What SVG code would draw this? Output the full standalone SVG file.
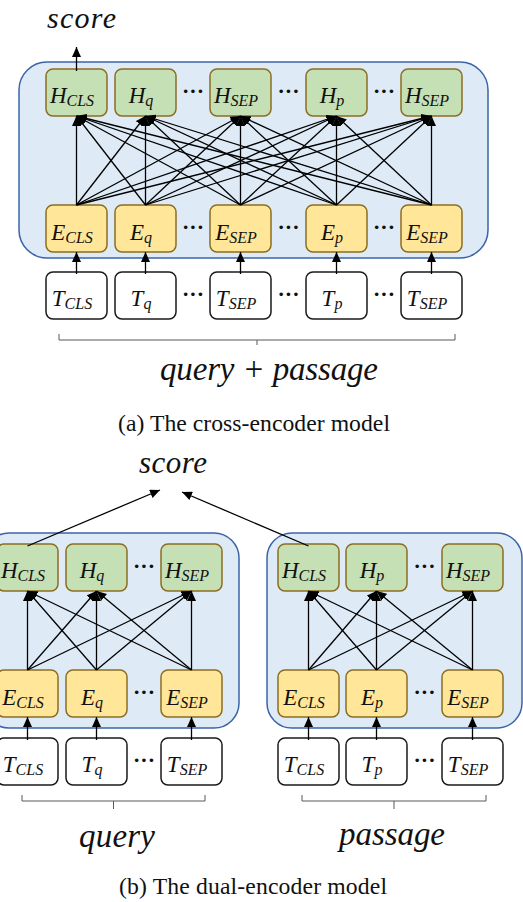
<svg xmlns="http://www.w3.org/2000/svg" width="523" height="902" viewBox="0 0 523 902">
<defs>
<style>
.cont{fill:#DEEBF7;stroke:#3B64A8;stroke-width:1.5}
.h{fill:#C5E0B4;stroke:#8C6D1F;stroke-width:1.5}
.e{fill:#FFE699;stroke:#8C6D1F;stroke-width:1.5}
.t{fill:#FFFFFF;stroke:#1A1A1A;stroke-width:1.5}
.lbl{font-family:"Liberation Serif",serif;font-style:italic;font-size:23px;fill:#111;text-anchor:middle}
.sub{font-size:16px}
.dots{font-family:"Liberation Serif",serif;font-size:22px;font-weight:bold;fill:#111;text-anchor:middle}
.math{font-family:"Liberation Serif",serif;font-style:italic;font-size:33px;fill:#111}
.cap{font-family:"Liberation Serif",serif;font-size:23.7px;fill:#111}
.ln{stroke:#000;stroke-width:1.3;fill:none}
.br{stroke:#595959;stroke-width:1;fill:none}
</style>
<marker id="ah" markerUnits="userSpaceOnUse" markerWidth="10" markerHeight="9" refX="10" refY="4.5" orient="auto">
<path d="M0,0 L10,4.5 L0,9 Z" fill="#000"/>
</marker>
</defs>
<rect width="523" height="902" fill="#fff"/>

<!-- (a) cross-encoder -->
<rect id="a-container" class="cont" x="19" y="62" width="469" height="196" rx="28"/>

<g id="a-H-CLS"><rect class="h" x="46" y="69" width="61" height="47" rx="7"/><text class="lbl" x="72" y="103">H<tspan class="sub" dy="3">CLS</tspan></text></g>
<g id="a-H-q"><rect class="h" x="115" y="69" width="61" height="47" rx="7"/><text class="lbl" x="141" y="103">H<tspan class="sub" dy="3">q</tspan></text></g>
<g id="a-H-SEP1"><rect class="h" x="210" y="69" width="61" height="47" rx="7"/><text class="lbl" x="236" y="103">H<tspan class="sub" dy="3">SEP</tspan></text></g>
<g id="a-H-p"><rect class="h" x="306" y="69" width="61" height="47" rx="7"/><text class="lbl" x="332" y="103">H<tspan class="sub" dy="3">p</tspan></text></g>
<g id="a-H-SEP2"><rect class="h" x="401" y="69" width="61" height="47" rx="7"/><text class="lbl" x="427" y="103">H<tspan class="sub" dy="3">SEP</tspan></text></g>

<g id="a-E-CLS"><rect class="e" x="46" y="205" width="61" height="47" rx="7"/><text class="lbl" x="72" y="240">E<tspan class="sub" dy="3">CLS</tspan></text></g>
<g id="a-E-q"><rect class="e" x="115" y="205" width="61" height="47" rx="7"/><text class="lbl" x="141" y="240">E<tspan class="sub" dy="3">q</tspan></text></g>
<g id="a-E-SEP1"><rect class="e" x="210" y="205" width="61" height="47" rx="7"/><text class="lbl" x="236" y="240">E<tspan class="sub" dy="3">SEP</tspan></text></g>
<g id="a-E-p"><rect class="e" x="306" y="205" width="61" height="47" rx="7"/><text class="lbl" x="332" y="240">E<tspan class="sub" dy="3">p</tspan></text></g>
<g id="a-E-SEP2"><rect class="e" x="401" y="205" width="61" height="47" rx="7"/><text class="lbl" x="427" y="240">E<tspan class="sub" dy="3">SEP</tspan></text></g>

<g id="a-T-CLS"><rect class="t" x="46" y="272" width="61" height="47" rx="7"/><text class="lbl" x="72" y="306">T<tspan class="sub" dy="3">CLS</tspan></text></g>
<g id="a-T-q"><rect class="t" x="115" y="272" width="61" height="47" rx="7"/><text class="lbl" x="141" y="306">T<tspan class="sub" dy="3">q</tspan></text></g>
<g id="a-T-SEP1"><rect class="t" x="210" y="272" width="61" height="47" rx="7"/><text class="lbl" x="236" y="306">T<tspan class="sub" dy="3">SEP</tspan></text></g>
<g id="a-T-p"><rect class="t" x="306" y="272" width="61" height="47" rx="7"/><text class="lbl" x="332" y="306">T<tspan class="sub" dy="3">p</tspan></text></g>
<g id="a-T-SEP2"><rect class="t" x="401" y="272" width="61" height="47" rx="7"/><text class="lbl" x="427" y="306">T<tspan class="sub" dy="3">SEP</tspan></text></g>

<g id="a-dots">
<text class="dots" x="193" y="98">···</text><text class="dots" x="288.5" y="98">···</text><text class="dots" x="384" y="98">···</text>
<text class="dots" x="193" y="234">···</text><text class="dots" x="288.5" y="234">···</text><text class="dots" x="384" y="234">···</text>
<text class="dots" x="193" y="301">···</text><text class="dots" x="288.5" y="301">···</text><text class="dots" x="384" y="301">···</text>
</g>

<text id="a-score" class="math" style="font-size:30px" x="47" y="27.5" textLength="69" lengthAdjust="spacing">score</text>
<path id="a-bracket" class="br" d="M59,334 V340 H455 V334 M257,340 V345"/>
<text id="a-input" class="math" x="160" y="380" textLength="218" lengthAdjust="spacing">query + passage</text>
<text id="a-caption" class="cap" x="118" y="431" textLength="272" lengthAdjust="spacing">(a) The cross-encoder model</text>

<g id="a-connectors" class="ln" marker-end="url(#ah)">
<line x1="76.5" y1="71" x2="76.5" y2="47"/>
<line x1="76.5" y1="274" x2="76.5" y2="252"/>
<line x1="145.5" y1="274" x2="145.5" y2="252"/>
<line x1="240.5" y1="274" x2="240.5" y2="252"/>
<line x1="336.5" y1="274" x2="336.5" y2="252"/>
<line x1="431.5" y1="274" x2="431.5" y2="252"/>
<line x1="76.5" y1="205" x2="76.5" y2="116"/>
<line x1="76.5" y1="205" x2="145.5" y2="116"/>
<line x1="76.5" y1="205" x2="240.5" y2="116"/>
<line x1="76.5" y1="205" x2="336.5" y2="116"/>
<line x1="76.5" y1="205" x2="431.5" y2="116"/>
<line x1="145.5" y1="205" x2="76.5" y2="116"/>
<line x1="145.5" y1="205" x2="145.5" y2="116"/>
<line x1="145.5" y1="205" x2="240.5" y2="116"/>
<line x1="145.5" y1="205" x2="336.5" y2="116"/>
<line x1="145.5" y1="205" x2="431.5" y2="116"/>
<line x1="240.5" y1="205" x2="76.5" y2="116"/>
<line x1="240.5" y1="205" x2="145.5" y2="116"/>
<line x1="240.5" y1="205" x2="240.5" y2="116"/>
<line x1="240.5" y1="205" x2="336.5" y2="116"/>
<line x1="240.5" y1="205" x2="431.5" y2="116"/>
<line x1="336.5" y1="205" x2="76.5" y2="116"/>
<line x1="336.5" y1="205" x2="145.5" y2="116"/>
<line x1="336.5" y1="205" x2="240.5" y2="116"/>
<line x1="336.5" y1="205" x2="336.5" y2="116"/>
<line x1="336.5" y1="205" x2="431.5" y2="116"/>
<line x1="431.5" y1="205" x2="76.5" y2="116"/>
<line x1="431.5" y1="205" x2="145.5" y2="116"/>
<line x1="431.5" y1="205" x2="240.5" y2="116"/>
<line x1="431.5" y1="205" x2="336.5" y2="116"/>
<line x1="431.5" y1="205" x2="431.5" y2="116"/>
</g>

<!-- (b) dual-encoder -->
<rect id="b-container-q" class="cont" x="-16" y="533" width="255" height="195" rx="25"/>
<rect id="b-container-p" class="cont" x="267" y="533" width="255" height="195" rx="25"/>

<g id="b-qH-CLS"><rect class="h" x="-3" y="544" width="61" height="47" rx="7"/><text class="lbl" x="23" y="578">H<tspan class="sub" dy="3">CLS</tspan></text></g>
<g id="b-qH-q"><rect class="h" x="66" y="544" width="61" height="47" rx="7"/><text class="lbl" x="92" y="578">H<tspan class="sub" dy="3">q</tspan></text></g>
<g id="b-qH-SEP"><rect class="h" x="161" y="544" width="61" height="47" rx="7"/><text class="lbl" x="187" y="578">H<tspan class="sub" dy="3">SEP</tspan></text></g>
<g id="b-qE-CLS"><rect class="e" x="-3" y="670" width="61" height="47" rx="7"/><text class="lbl" x="23" y="705">E<tspan class="sub" dy="3">CLS</tspan></text></g>
<g id="b-qE-q"><rect class="e" x="66" y="670" width="61" height="47" rx="7"/><text class="lbl" x="92" y="705">E<tspan class="sub" dy="3">q</tspan></text></g>
<g id="b-qE-SEP"><rect class="e" x="161" y="670" width="61" height="47" rx="7"/><text class="lbl" x="187" y="705">E<tspan class="sub" dy="3">SEP</tspan></text></g>
<g id="b-qT-CLS"><rect class="t" x="-3" y="738" width="61" height="47" rx="7"/><text class="lbl" x="23" y="772">T<tspan class="sub" dy="3">CLS</tspan></text></g>
<g id="b-qT-q"><rect class="t" x="66" y="738" width="61" height="47" rx="7"/><text class="lbl" x="92" y="772">T<tspan class="sub" dy="3">q</tspan></text></g>
<g id="b-qT-SEP"><rect class="t" x="161" y="738" width="61" height="47" rx="7"/><text class="lbl" x="187" y="772">T<tspan class="sub" dy="3">SEP</tspan></text></g>

<g id="b-pH-CLS"><rect class="h" x="278" y="544" width="61" height="47" rx="7"/><text class="lbl" x="304" y="578">H<tspan class="sub" dy="3">CLS</tspan></text></g>
<g id="b-pH-p"><rect class="h" x="346" y="544" width="61" height="47" rx="7"/><text class="lbl" x="372" y="578">H<tspan class="sub" dy="3">p</tspan></text></g>
<g id="b-pH-SEP"><rect class="h" x="442" y="544" width="61" height="47" rx="7"/><text class="lbl" x="468" y="578">H<tspan class="sub" dy="3">SEP</tspan></text></g>
<g id="b-pE-CLS"><rect class="e" x="278" y="670" width="61" height="47" rx="7"/><text class="lbl" x="304" y="705">E<tspan class="sub" dy="3">CLS</tspan></text></g>
<g id="b-pE-p"><rect class="e" x="346" y="670" width="61" height="47" rx="7"/><text class="lbl" x="372" y="705">E<tspan class="sub" dy="3">p</tspan></text></g>
<g id="b-pE-SEP"><rect class="e" x="442" y="670" width="61" height="47" rx="7"/><text class="lbl" x="468" y="705">E<tspan class="sub" dy="3">SEP</tspan></text></g>
<g id="b-pT-CLS"><rect class="t" x="278" y="738" width="61" height="47" rx="7"/><text class="lbl" x="304" y="772">T<tspan class="sub" dy="3">CLS</tspan></text></g>
<g id="b-pT-p"><rect class="t" x="346" y="738" width="61" height="47" rx="7"/><text class="lbl" x="372" y="772">T<tspan class="sub" dy="3">p</tspan></text></g>
<g id="b-pT-SEP"><rect class="t" x="442" y="738" width="61" height="47" rx="7"/><text class="lbl" x="468" y="772">T<tspan class="sub" dy="3">SEP</tspan></text></g>

<g id="b-dots">
<text class="dots" x="144" y="573">···</text><text class="dots" x="144" y="699">···</text><text class="dots" x="144" y="767">···</text>
<text class="dots" x="424.5" y="573">···</text><text class="dots" x="424.5" y="699">···</text><text class="dots" x="424.5" y="767">···</text>
</g>

<text id="b-score" class="math" style="font-size:31px" x="139" y="473" textLength="68" lengthAdjust="spacing">score</text>
<path id="b-bracket-q" class="br" d="M22,795 V801 H205 V795 M113.5,801 V809"/>
<path id="b-bracket-p" class="br" d="M302,795 V801 H486 V795 M394,801 V809"/>
<text id="b-query" class="math" x="79" y="847" textLength="76" lengthAdjust="spacing">query</text>
<text id="b-passage" class="math" x="339" y="845" textLength="106" lengthAdjust="spacing">passage</text>
<text id="b-caption" class="cap" x="119" y="894" textLength="268" lengthAdjust="spacing">(b) The dual-encoder model</text>

<g id="b-connectors" class="ln" marker-end="url(#ah)">
<line x1="27.5" y1="546" x2="160" y2="490"/>
<line x1="308.5" y1="546" x2="182" y2="492"/>
<line x1="27.5" y1="740" x2="27.5" y2="717"/>
<line x1="96.5" y1="740" x2="96.5" y2="717"/>
<line x1="191.5" y1="740" x2="191.5" y2="717"/>
<line x1="308.5" y1="740" x2="308.5" y2="717"/>
<line x1="376.5" y1="740" x2="376.5" y2="717"/>
<line x1="472.5" y1="740" x2="472.5" y2="717"/>
<line x1="27.5" y1="670" x2="27.5" y2="591"/>
<line x1="27.5" y1="670" x2="96.5" y2="591"/>
<line x1="27.5" y1="670" x2="191.5" y2="591"/>
<line x1="96.5" y1="670" x2="27.5" y2="591"/>
<line x1="96.5" y1="670" x2="96.5" y2="591"/>
<line x1="96.5" y1="670" x2="191.5" y2="591"/>
<line x1="191.5" y1="670" x2="27.5" y2="591"/>
<line x1="191.5" y1="670" x2="96.5" y2="591"/>
<line x1="191.5" y1="670" x2="191.5" y2="591"/>
<line x1="308.5" y1="670" x2="308.5" y2="591"/>
<line x1="308.5" y1="670" x2="376.5" y2="591"/>
<line x1="308.5" y1="670" x2="472.5" y2="591"/>
<line x1="376.5" y1="670" x2="308.5" y2="591"/>
<line x1="376.5" y1="670" x2="376.5" y2="591"/>
<line x1="376.5" y1="670" x2="472.5" y2="591"/>
<line x1="472.5" y1="670" x2="308.5" y2="591"/>
<line x1="472.5" y1="670" x2="376.5" y2="591"/>
<line x1="472.5" y1="670" x2="472.5" y2="591"/>
</g>
</svg>
